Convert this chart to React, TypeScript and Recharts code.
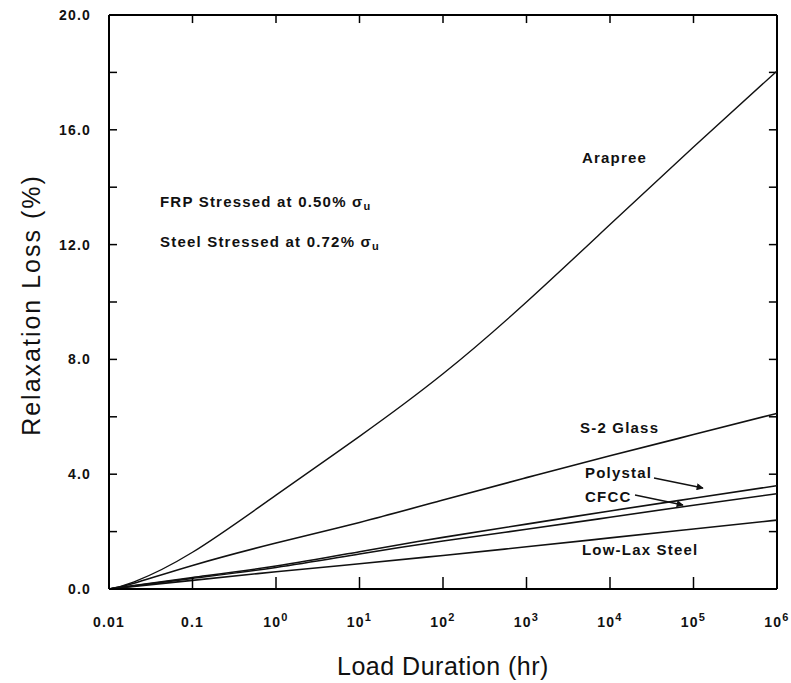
import React from "react";
import { LineChart, Line, XAxis, YAxis, ReferenceLine } from "recharts";

const durations = [0.01, 0.02, 0.1, 1, 10, 100, 1000, 10000, 100000, 1000000];
const arapree = [0, 0.25, 1.28, 3.27, 5.32, 7.5, 10.0, 12.7, 15.4, 18.05];
const s2Glass = [0, 0.2, 0.82, 1.6, 2.32, 3.1, 3.88, 4.64, 5.38, 6.12];
const polystal = [0, 0.12, 0.4, 0.8, 1.3, 1.8, 2.26, 2.72, 3.16, 3.6];
const cfcc = [0, 0.11, 0.37, 0.75, 1.22, 1.67, 2.08, 2.5, 2.92, 3.32];
const lowLax = [0, 0.09, 0.3, 0.6, 0.88, 1.17, 1.47, 1.78, 2.09, 2.4];

const xTicks = [0.01, 0.1, 1, 10, 100, 1000, 10000, 100000, 1000000];
const xTickLabels: [string, string][] = [
  ["0.01", ""], ["0.1", ""], ["10", "0"], ["10", "1"], ["10", "2"],
  ["10", "3"], ["10", "4"], ["10", "5"], ["10", "6"],
];
const yTicks = [0, 2, 4, 6, 8, 10, 12, 14, 16, 18, 20];
const yLabelled = [0, 4, 8, 12, 16, 20];
const innerXTicks = [0.1, 1, 10, 100, 1000, 10000, 100000];
const innerYTicks = [2, 4, 6, 8, 10, 12, 14, 16, 18];

const data = durations.map((d, i) => ({
  x: d,
  arapree: arapree[i],
  s2: s2Glass[i],
  polystal: polystal[i],
  cfcc: cfcc[i],
  lowLax: lowLax[i],
}));

const FONT = "'Liberation Sans', Arial, Helvetica, sans-serif";

const BottomTick = (props: any) => {
  const { x, y, payload } = props;
  const idx = xTicks.indexOf(payload.value);
  const lab = xTickLabels[idx] || [String(payload.value), ""];
  const edge = idx === 0 || idx === xTicks.length - 1;
  return (
    <g>
      {!edge && <line x1={x} y1={y} x2={x} y2={y - 12} stroke="#000" strokeWidth={1.5} />}
      <text x={x} y={y + 38} textAnchor="middle" fontFamily={FONT} fontWeight="bold" fontSize={14} letterSpacing={1.2} fill="#111">
        {lab[0]}
        {lab[1] && <tspan dy={-6} fontSize={11}>{lab[1]}</tspan>}
      </text>
    </g>
  );
};

const LeftTick = (props: any) => {
  const { x, y, payload } = props;
  const v = payload.value;
  const edge = v === 0 || v === 20;
  return (
    <g>
      {!edge && <line x1={x} y1={y} x2={x + 8} y2={y} stroke="#000" strokeWidth={1.5} />}
      {yLabelled.includes(v) && (
        <text x={x - 18} y={y + 5} textAnchor="end" fontFamily={FONT} fontWeight="bold" fontSize={14} letterSpacing={1.2} fill="#111">
          {v.toFixed(1)}
        </text>
      )}
    </g>
  );
};

const annoStyle = { fontFamily: FONT, fontWeight: "bold" as const, fontSize: 15, letterSpacing: 1.2, fill: "#111" };

const TOP_TICK = 0.28; // y units (≈8px)
const RIGHT_TICK_X = 800000; // ≈8px inward on the log axis

export default function App() {
  return (
    <div style={{ position: "absolute", left: 0, top: 0, width: 791, height: 683, background: "#fff" }}>
      <LineChart width={791} height={683} data={data} margin={{ top: 15, right: 14, bottom: 64, left: 49 }}>
        <XAxis
          dataKey="x"
          type="number"
          scale="log"
          domain={[0.01, 1000000]}
          ticks={xTicks}
          allowDataOverflow
          tickLine={false}
          tickSize={0}
          tickMargin={0}
          height={30}
          axisLine={{ stroke: "#000", strokeWidth: 2 }}
          tick={<BottomTick />}
          interval={0}
        />
        <YAxis
          type="number"
          domain={[0, 20]}
          ticks={yTicks}
          allowDataOverflow
          tickLine={false}
          tickSize={0}
          tickMargin={0}
          width={60}
          axisLine={{ stroke: "#000", strokeWidth: 2 }}
          tick={<LeftTick />}
          interval={0}
        />
        <ReferenceLine y={20} stroke="#000" strokeWidth={2} />
        <ReferenceLine x={1000000} stroke="#000" strokeWidth={2} />
        {innerXTicks.map((t) => (
          <ReferenceLine
            key={"tx" + t}
            segment={[{ x: t, y: 20 }, { x: t, y: 20 - TOP_TICK }]}
            stroke="#000"
            strokeWidth={1.5}
          />
        ))}
        {innerYTicks.map((t) => (
          <ReferenceLine
            key={"ty" + t}
            segment={[{ x: 1000000, y: t }, { x: RIGHT_TICK_X, y: t }]}
            stroke="#000"
            strokeWidth={1.5}
          />
        ))}
        <Line dataKey="arapree" type="natural" stroke="#111" strokeWidth={1.4} dot={false} isAnimationActive={false} />
        <Line dataKey="s2" type="natural" stroke="#111" strokeWidth={1.6} dot={false} isAnimationActive={false} />
        <Line dataKey="polystal" type="natural" stroke="#111" strokeWidth={1.6} dot={false} isAnimationActive={false} />
        <Line dataKey="cfcc" type="natural" stroke="#111" strokeWidth={1.6} dot={false} isAnimationActive={false} />
        <Line dataKey="lowLax" type="natural" stroke="#111" strokeWidth={1.6} dot={false} isAnimationActive={false} />
      </LineChart>
      <svg width={791} height={683} style={{ position: "absolute", left: 0, top: 0, pointerEvents: "none" }}>
        <defs>
          <marker id="ah" viewBox="0 0 10 10" refX="9" refY="5" markerWidth="9" markerHeight="7" orient="auto" markerUnits="userSpaceOnUse">
            <path d="M0,0 L10,5 L0,10 z" fill="#111" />
          </marker>
        </defs>
        <text x={40} y={305} transform="rotate(-90 40 305)" textAnchor="middle" fontFamily={FONT} fontSize={25} letterSpacing={2} fill="#111">
          Relaxation Loss (%)
        </text>
        <text x={443} y={675} textAnchor="middle" fontFamily={FONT} fontSize={25} letterSpacing={0.5} fill="#111">
          Load Duration (hr)
        </text>
        <text x={582} y={163} {...annoStyle}>Arapree</text>
        <text x={160} y={207} {...annoStyle}>
          FRP Stressed at 0.50% σ<tspan dy={3} fontSize={11}>u</tspan>
        </text>
        <text x={160} y={247} {...annoStyle}>
          Steel Stressed at 0.72% σ<tspan dy={3} fontSize={11}>u</tspan>
        </text>
        <text x={580} y={433} {...annoStyle}>S-2 Glass</text>
        <text x={585} y={478} {...annoStyle}>Polystal</text>
        <text x={585} y={502} {...annoStyle}>CFCC</text>
        <text x={582} y={555} {...annoStyle}>Low-Lax Steel</text>
        <line x1={654} y1={478} x2={703} y2={488} stroke="#111" strokeWidth={1.3} markerEnd="url(#ah)" />
        <line x1={635} y1={495} x2={683} y2={505} stroke="#111" strokeWidth={1.3} markerEnd="url(#ah)" />
      </svg>
    </div>
  );
}
